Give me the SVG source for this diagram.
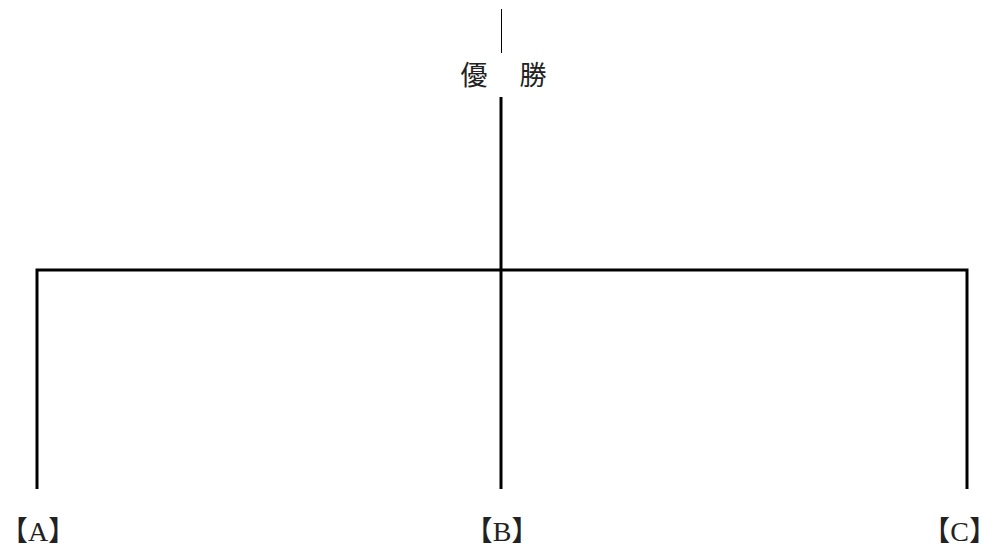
<svg xmlns="http://www.w3.org/2000/svg" width="998" height="546" viewBox="0 0 998 546">
<style>
.t{font-family:"Liberation Serif","Noto Sans CJK JP",serif;fill:#222;}
.lbl{font-size:28px;text-anchor:middle;}
.ttl{font-size:27px;text-anchor:middle;}
.thick{stroke:#000;stroke-width:3;fill:none;}
.thin{stroke:#000;stroke-width:1;fill:none;}
</style>
<rect width="998" height="546" fill="#fff"/>
<g id="connectors">
<line class="thin" x1="501.5" y1="9" x2="501.5" y2="53"/>
<line class="thick" x1="501" y1="97" x2="501" y2="489"/>
<polyline class="thick" points="37,489 37,270 967,270 967,489"/>
</g>
<g id="winner">
<text class="t ttl" x="474" y="85">優</text>
<text class="t ttl" x="533" y="85">勝</text>
</g>
<g id="A"><text class="t lbl" x="38" y="541">【A】</text></g>
<g id="B"><text class="t lbl" x="502" y="541">【B】</text></g>
<g id="C"><text class="t lbl" x="997" y="541" style="text-anchor:end">【C】</text></g>
</svg>
